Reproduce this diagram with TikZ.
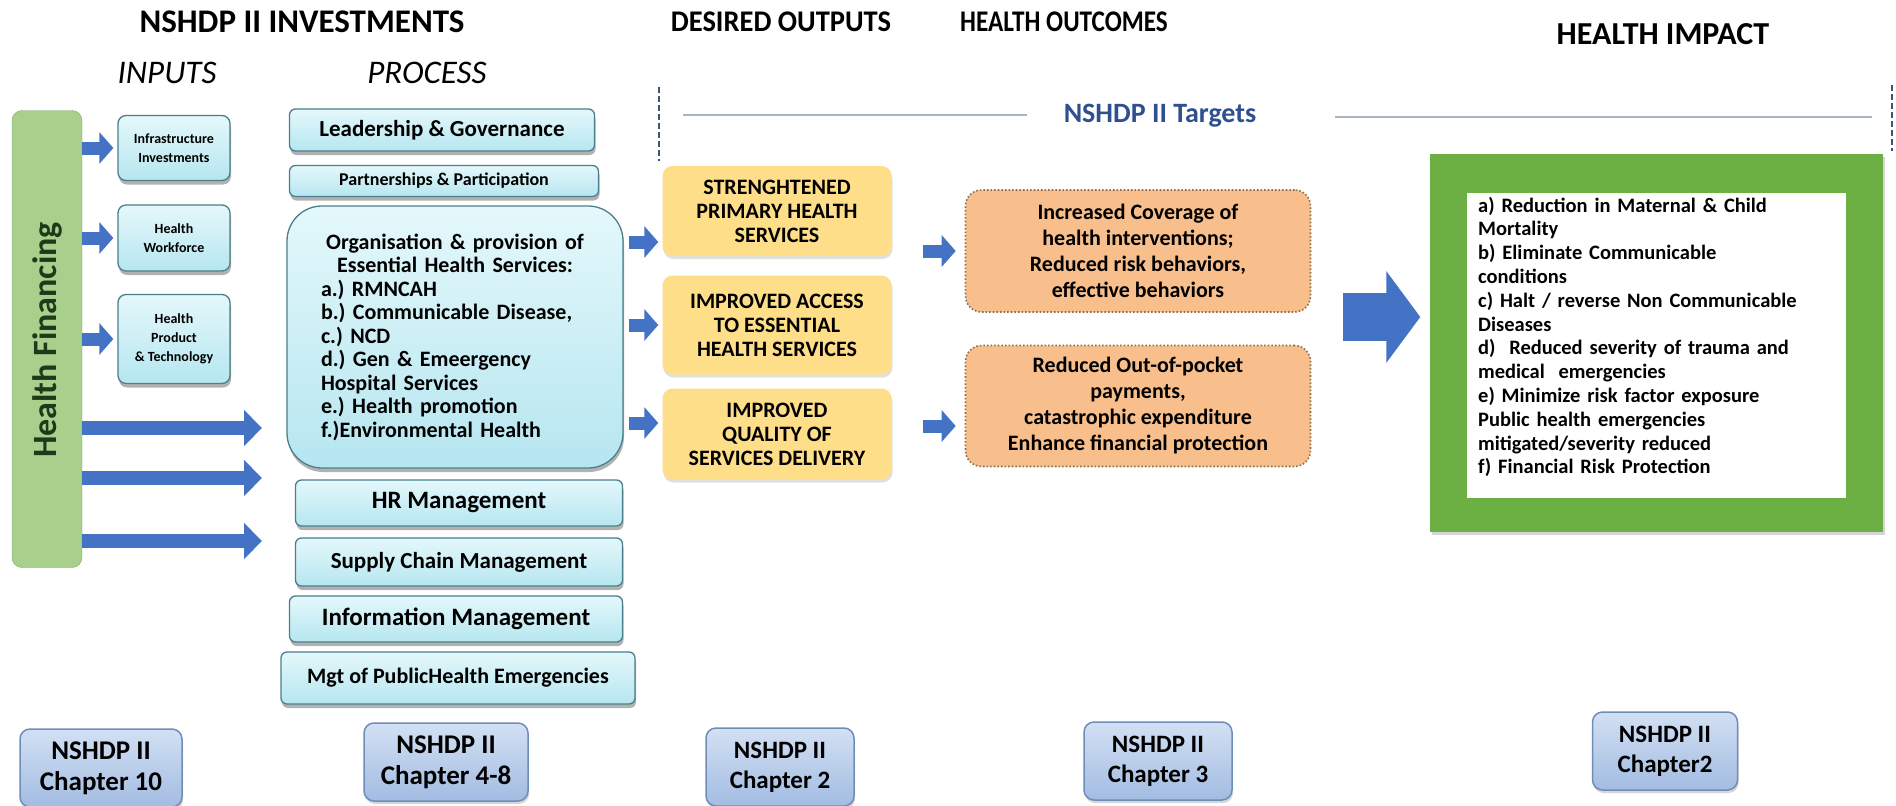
\documentclass[tikz,border=0pt]{standalone}
\usepackage{fontspec}
\setmainfont{Carlito}
\usetikzlibrary{arrows.meta,shadows}

\definecolor{arrblue}{HTML}{4472C4}
\definecolor{boxline}{HTML}{4A7F8B}
\definecolor{cyantop}{HTML}{E4F8FB}
\definecolor{cyanbot}{HTML}{B6E6F0}
\definecolor{outyellow}{HTML}{FFDE89}
\definecolor{ocorange}{HTML}{F8BF8C}
\definecolor{ocline}{HTML}{8A7050}
\definecolor{chaptop}{HTML}{D2E0F3}
\definecolor{chapbot}{HTML}{A3BCE2}
\definecolor{chapline}{HTML}{6F8DB8}
\definecolor{fingreen}{HTML}{A8CF8C}
\definecolor{fintext}{HTML}{1F3A1A}
\definecolor{impgreen}{HTML}{6CB044}
\definecolor{tgtblue}{HTML}{2F4F8F}
\definecolor{tgtline}{HTML}{A9B5C2}
\definecolor{dashblue}{HTML}{3C5478}

\begin{document}
\frenchspacing
\begin{tikzpicture}[x=1pt,y=-1pt]
\tikzset{head/.style = {font=\bfseries\fontsize{30}{30}\selectfont}}
\tikzset{subhead/.style = {font=\itshape\fontsize{33}{33}\selectfont}}
\tikzset{inbox/.style = {draw=boxline, line width=1.3pt, rounded corners=8pt, top color=cyantop, bottom color=cyanbot,
    align=center, inner sep=1pt, font=\bfseries\fontsize{14}{19}\selectfont,
    drop shadow={shadow xshift=1pt, shadow yshift=-4pt, fill=black!60, opacity=.5}}}
\tikzset{procbox/.style = {inbox, rounded corners=6pt, font=\bfseries\fontsize{23}{24}\selectfont}}
\tikzset{outbox/.style = {fill=outyellow, rounded corners=10pt, align=center, font=\bfseries\fontsize{22}{24}\selectfont,
    drop shadow={shadow xshift=1pt, shadow yshift=-3pt, fill=black!30, opacity=.4}}}
\tikzset{ocbox/.style = {draw=ocline, dotted, line width=1.6pt, fill=ocorange, rounded corners=16pt, align=center,
    font=\bfseries\fontsize{22}{26}\selectfont}}
\tikzset{chap/.style = {draw=chapline, line width=1.5pt, rounded corners=10pt, top color=chaptop, bottom color=chapbot,
    align=center, font=\bfseries\fontsize{25}{30}\selectfont, minimum height=78pt,
    drop shadow={shadow xshift=1pt, shadow yshift=-3pt, fill=black!40, opacity=.4}}}
\tikzset{smallarr/.style = {arrblue, line width=13pt, -{Triangle[length=14pt,width=31pt]}}}
\tikzset{longarr/.style = {arrblue, line width=14pt, -{Triangle[length=18pt,width=35pt]}}}
\tikzset{bigarr/.style = {arrblue, line width=48pt, -{Triangle[length=34pt,width=90pt]}}}
\tikzset{tline/.style = {tgtline, line width=2.5pt}}
\tikzset{dline/.style = {dashblue, line width=2pt, dash pattern=on 6pt off 3pt}}
\useasboundingbox (0,0) rectangle (1896,806);

% headings
\node[head, font=\bfseries\fontsize{33}{33}\selectfont] (inv) at (302, 22) {NSHDP II INVESTMENTS};
\node[subhead] (inp) at (167, 73) {INPUTS};
\node[subhead] (proc) at (427, 73) {PROCESS};
\node[head] (dout) at (781, 22) {\scalebox{0.95}[1]{DESIRED OUTPUTS}};
\node[head] (hout) at (1064, 22) {\scalebox{0.84}[1]{HEALTH OUTCOMES}};
\node[head, font=\bfseries\fontsize{32}{32}\selectfont] (himp) at (1663, 34) {HEALTH IMPACT};

% targets
\node[font=\bfseries\fontsize{28}{28}\selectfont, text=tgtblue] (tgt) at (1160, 116) {NSHDP II Targets};
\coordinate (tl) at (683, 115);
\coordinate (tr) at (1872, 117);
\coordinate (dl1) at (659, 87);
\coordinate (dl2) at (659, 161);
\coordinate (dr1) at (1892, 85);
\coordinate (dr2) at (1892, 151);

% inputs
\node[fill=fingreen, draw=fingreen!80!black, rounded corners=10pt, minimum width=70pt, minimum height=457pt] (hf) at (47, 339) {};
\node[rotate=90, font=\bfseries\fontsize{34}{34}\selectfont, text=fintext] (hft) at (47, 340) {Health Financing};
\node[inbox, minimum width=112pt, minimum height=65pt] (inf) at (174, 148) {Infrastructure\\Investments};
\node[inbox, minimum width=112pt, minimum height=66pt] (wf) at (174, 238) {Health\\Workforce};
\node[inbox, minimum width=112pt, minimum height=89pt] (tech) at (174, 339) {Health\\Product\\\& Technology};

% process
\node[procbox, minimum width=305pt, minimum height=42pt] (lead) at (442, 130) {Leadership \& Governance};
\node[procbox, minimum width=309pt, minimum height=31pt, font=\bfseries\fontsize{18}{18}\selectfont] (part) at (444, 181) {Partnerships \& Participation};
\node[procbox, rounded corners=35pt, minimum width=336pt, minimum height=262pt, text width=268pt, align=left,
  font=\bfseries\fontsize{22}{23.5}\selectfont] (org) at (455, 337)
  {\centering Organisation \& provision of\\Essential Health Services:\par
   \raggedright a.) RMNCAH\\b.) Communicable Disease,\\c.) NCD\\d.) Gen \& Emeergency\\Hospital Services\\e.) Health promotion\\f.)Environmental Health};
\node[procbox, minimum width=327pt, minimum height=46pt, font=\bfseries\fontsize{25}{25}\selectfont] (hr) at (459, 503) {HR Management};
\node[procbox, minimum width=327pt, minimum height=48pt] (sup) at (459, 562) {Supply Chain Management};
\node[procbox, minimum width=333pt, minimum height=46pt, font=\bfseries\fontsize{25}{25}\selectfont] (info) at (456, 619) {Information Management};
\node[procbox, minimum width=354pt, minimum height=52pt, font=\bfseries\fontsize{22}{22}\selectfont] (mgt) at (458, 678) {Mgt of PublicHealth Emergencies};

% outputs
\node[outbox, minimum width=229pt, minimum height=90pt] (o1) at (777, 211) {STRENGHTENED\\PRIMARY HEALTH\\SERVICES};
\node[outbox, minimum width=229pt, minimum height=99pt] (o2) at (777, 325) {IMPROVED ACCESS\\TO ESSENTIAL\\HEALTH SERVICES};
\node[outbox, minimum width=229pt, minimum height=91pt] (o3) at (777, 434) {IMPROVED\\QUALITY OF\\SERVICES DELIVERY};

% outcomes
\node[ocbox, minimum width=345pt, minimum height=122pt] (oc1) at (1138, 251) {Increased Coverage of\\health interventions;\\Reduced risk behaviors,\\effective behaviors};
\node[ocbox, minimum width=345pt, minimum height=121pt] (oc2) at (1138, 406) {Reduced Out-of-pocket\\payments,\\catastrophic expenditure\\Enhance financial protection};

% impact
\node[fill=impgreen, minimum width=453pt, minimum height=378pt, drop shadow={shadow xshift=2pt, shadow yshift=-3pt, fill=black!40, opacity=.4}] (imp) at (1656, 343) {};
\node[fill=white, minimum width=379pt, minimum height=305pt] (impw) at (1656, 345) {};
\node[anchor=west, inner sep=0pt, text width=370pt, align=left, font=\bfseries\fontsize{20.5}{23.8}\selectfont] (impt) at (1478, 337)
  {a) Reduction in Maternal \& Child\\Mortality\\b) Eliminate Communicable\\conditions\\c) Halt / reverse Non Communicable\\Diseases\\d)\ \ Reduced severity of trauma and\\medical\ \ emergencies\\e) Minimize risk factor exposure\\Public health emergencies\\mitigated/severity reduced\\f) Financial Risk Protection};

% chapters
\node[chap, minimum width=162pt, font=\bfseries\fontsize{27}{31}\selectfont] (c10) at (101, 768) {NSHDP II\\Chapter 10};
\node[chap, minimum width=164pt, font=\bfseries\fontsize{27}{31}\selectfont] (c48) at (446, 762) {NSHDP II\\Chapter 4-8};
\node[chap, minimum width=148pt] (c2) at (780, 767) {NSHDP II\\Chapter 2};
\node[chap, minimum width=148pt] (c3) at (1158, 761) {NSHDP II\\Chapter 3};
\node[chap, minimum width=145pt] (c2b) at (1665, 751) {NSHDP II\\Chapter2};

%edges
\draw[dline] (dl1) -- (dl2);
\draw[dline] (dr1) -- (dr2);
\draw[tline, shorten >=33pt] (tl) -- (tgt.west |- tl);
\draw[tline, shorten <=75pt] (tgt.east |- tr) -- (tr);
\draw[smallarr, shorten >=4pt] (hf.east |- inf) -- (inf.west);
\draw[smallarr, shorten >=4pt] (hf.east |- wf) -- (wf.west);
\draw[smallarr, shorten >=4pt] (hf.east |- tech) -- (tech.west);
\coordinate (l1) at (262, 428);
\coordinate (l2) at (262, 478);
\coordinate (l3) at (262, 541);
\draw[longarr] (hf.east |- l1) -- (l1);
\draw[longarr] (hf.east |- l2) -- (l2);
\draw[longarr] (hf.east |- l3) -- (l3);
\draw[smallarr, shorten <=5pt, shorten >=4pt] (org.east |- 0,242) -- (o1.west |- 0,242);
\draw[smallarr, shorten <=5pt, shorten >=4pt] (org.east |- o2) -- (o2.west);
\draw[smallarr, shorten <=5pt, shorten >=4pt] (org.east |- 0,423) -- (o3.west |- 0,423);
\draw[smallarr, shorten <=31pt, shorten >=9pt] (o1.east |- oc1) -- (oc1.west);
\draw[smallarr, shorten <=31pt, shorten >=9pt] (o3.east |- 0,426) -- (oc2.west |- 0,426);
\draw[bigarr, shorten <=32pt, shorten >=9pt] (oc1.east |- 0,317) -- (imp.west |- 0,317);
\end{tikzpicture}
\end{document}
